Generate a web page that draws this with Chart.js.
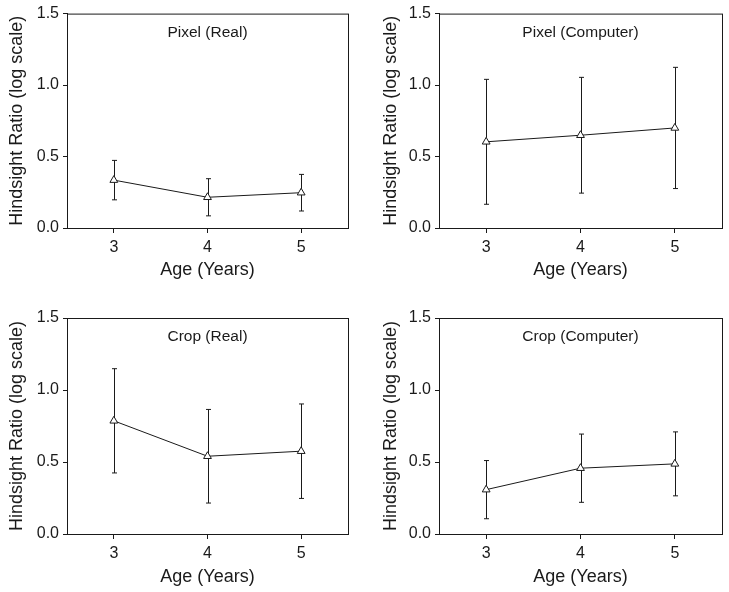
<!DOCTYPE html>
<html>
<head>
<meta charset="utf-8">
<script src="https://cdn.jsdelivr.net/npm/chart.js@4.4.1/dist/chart.umd.min.js"></script>
<style>
  body { margin: 0; background: #fff; }
  #wrap { position: relative; width: 729px; height: 592px; }
  .panel { position: absolute; }
</style>
</head>
<body>
<div id="wrap">
  <div class="panel" style="left:0;top:0;width:360px;height:292px"><canvas id="c0"></canvas></div>
  <div class="panel" style="left:372px;top:0;width:357px;height:292px"><canvas id="c1"></canvas></div>
  <div class="panel" style="left:0;top:300px;width:360px;height:292px"><canvas id="c2"></canvas></div>
  <div class="panel" style="left:372px;top:300px;width:357px;height:292px"><canvas id="c3"></canvas></div>
</div>
<script>
/* =======================
   DATA
======================= */
const ages = [3, 4, 5];
const xTicks = [3, 4, 5];
const yTicks = [0, 0.5, 1.0, 1.5];

const panelTitles = ["Pixel (Real)", "Pixel (Computer)", "Crop (Real)", "Crop (Computer)"];

const pixelRealMean = [0.335, 0.215, 0.247];
const pixelRealErr = [0.138, 0.130, 0.128];
const pixelCompMean = [0.603, 0.649, 0.700];
const pixelCompErr = [0.437, 0.405, 0.424];
const cropRealMean = [0.786, 0.540, 0.575];
const cropRealErr = [0.362, 0.325, 0.328];
const cropCompMean = [0.308, 0.457, 0.487];
const cropCompErr = [0.202, 0.237, 0.222];

const means = [pixelRealMean, pixelCompMean, cropRealMean, cropCompMean];
const errs = [pixelRealErr, pixelCompErr, cropRealErr, cropCompErr];

const INK = "#1a1a1a";
const FONT = "'Liberation Sans', Arial, Helvetica, sans-serif";

/* =======================
   PLUGINS
======================= */
const errorBars = {
  id: "errorBars",
  beforeDatasetsDraw(chart, args, opts) {
    const { ctx, scales: { x, y } } = chart;
    ctx.save();
    ctx.strokeStyle = INK;
    ctx.lineWidth = 1;
    opts.mean.forEach((m, i) => {
      const px = Math.round(x.getPixelForValue(ages[i])) + 0.5;
      const top = y.getPixelForValue(m + opts.err[i]);
      const bot = y.getPixelForValue(m - opts.err[i]);
      ctx.beginPath();
      ctx.moveTo(px, top); ctx.lineTo(px, bot);
      ctx.moveTo(px - 2.5, top); ctx.lineTo(px + 2.5, top);
      ctx.moveTo(px - 2.5, bot); ctx.lineTo(px + 2.5, bot);
      ctx.stroke();
    });
    ctx.restore();
  }
};

const frameAndTitle = {
  id: "frameAndTitle",
  afterDraw(chart, args, opts) {
    const { ctx, chartArea: a } = chart;
    ctx.save();
    ctx.strokeStyle = INK;
    ctx.lineWidth = 1;
    ctx.strokeRect(a.left + 0.5, a.top + 0.5, a.right - a.left, a.bottom - a.top);
    ctx.fillStyle = INK;
    ctx.font = "15.5px " + FONT;
    ctx.textAlign = "center";
    ctx.textBaseline = "middle";
    ctx.fillText(opts.text, (a.left + a.right) / 2, a.top + 19);
    ctx.restore();
  }
};

/* =======================
   CHARTS
======================= */
function makePanel(i) {
  const isTop = i < 2;
  const isRight = i % 2 === 1;
  const plotBottom = isTop ? 228 : 234;

  new Chart(document.getElementById("c" + i), {
    type: "line",
    data: {
      datasets: [{
        data: ages.map((a, k) => ({ x: a, y: means[i][k] })),
        borderColor: INK,
        borderWidth: 1,
        pointStyle: "triangle",
        pointRadius: 4.5,
        pointBackgroundColor: "#fff",
        pointBorderColor: INK,
        pointBorderWidth: 1,
        tension: 0
      }]
    },
    options: {
      responsive: true,
      maintainAspectRatio: false,
      animation: false,
      layout: { padding: { top: isTop ? 12 : 18, right: isRight ? 7 : 12, left: 0, bottom: 0 } },
      plugins: {
        legend: { display: false },
        tooltip: { enabled: false },
        errorBars: { mean: means[i], err: errs[i] },
        frameAndTitle: { text: panelTitles[i] }
      },
      scales: {
        x: {
          type: "linear",
          min: 2.5, max: 5.5,
          afterBuildTicks: s => { s.ticks = xTicks.map(v => ({ value: v })); },
          afterFit: s => { s.height = 292 - plotBottom; },
          grid: { drawOnChartArea: false, drawTicks: true, tickLength: 5, tickColor: INK },
          border: { color: INK, width: 1 },
          ticks: { color: INK, font: { family: FONT, size: 16 }, padding: 5, maxRotation: 0 },
          title: {
            display: true, text: "Age (Years)", color: INK,
            font: { family: FONT, size: 18 },
            padding: { top: 0, bottom: isTop ? 11 : 4 }
          }
        },
        y: {
          min: 0, max: 1.5,
          afterBuildTicks: s => { s.ticks = yTicks.map(v => ({ value: v })); },
          afterFit: s => { s.width = 67; },
          grid: { drawOnChartArea: false, drawTicks: true, tickLength: 4, tickColor: INK },
          border: { color: INK, width: 1 },
          ticks: { color: INK, font: { family: FONT, size: 16 }, padding: 4, callback: v => v.toFixed(1) },
          title: {
            display: true, text: "Hindsight Ratio (log scale)", color: INK,
            font: { family: FONT, size: 18 },
            padding: { top: isRight ? 8 : 6, bottom: 0 }
          }
        }
      }
    },
    plugins: [errorBars, frameAndTitle]
  });
}

[0, 1, 2, 3].forEach(makePanel);
</script>
</body>
</html>
